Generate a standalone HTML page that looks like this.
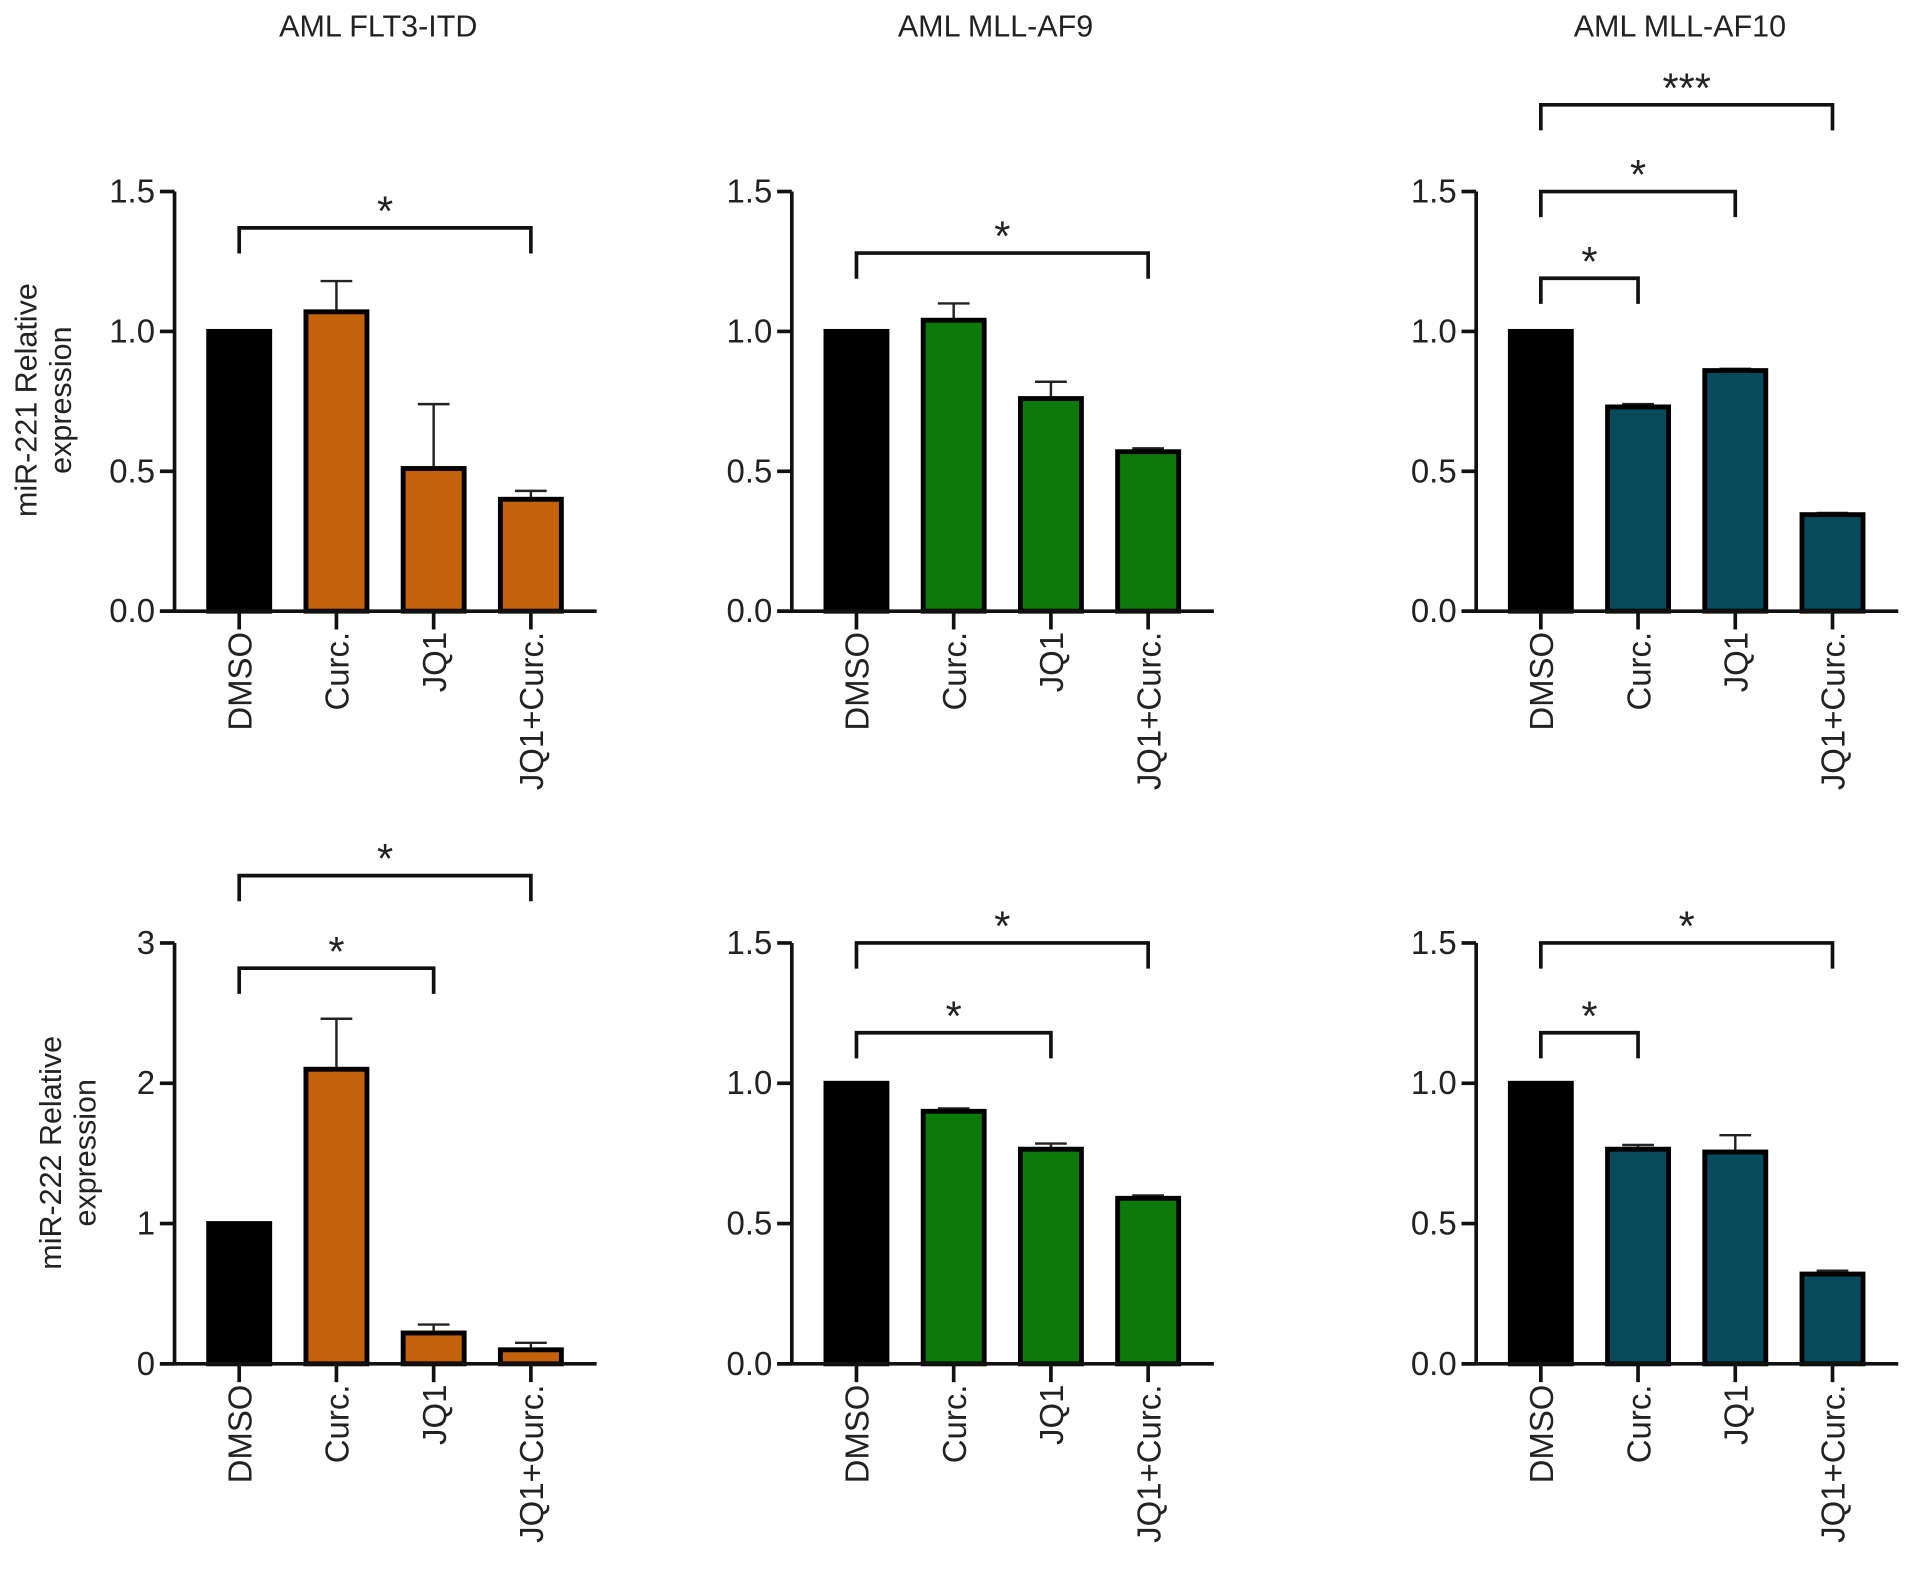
<!DOCTYPE html>
<html><head><meta charset="utf-8"><style>
html,body{margin:0;padding:0;background:#fff}
svg{display:block}
text{font-family:"Liberation Sans",Arial,sans-serif;fill:#222}
</style></head><body>
<svg id="fig" width="1913" height="1570" viewBox="0 0 1568 1287" xmlns="http://www.w3.org/2000/svg"></svg>
<script>
const categories = ["DMSO","Curc.","JQ1","JQ1+Curc."];
const titles = ["AML FLT3-ITD","AML MLL-AF9","AML MLL-AF10"];
const p1Values = [1,1.07,0.51,0.40], p1Err = [0,0.11,0.23,0.03];
const p2Values = [1,1.04,0.76,0.57], p2Err = [0,0.06,0.06,0.012];
const p3Values = [1,0.73,0.86,0.345], p3Err = [0,0.01,0.006,0.006];
const p4Values = [1,2.1,0.22,0.10], p4Err = [0,0.36,0.06,0.05];
const p5Values = [1,0.90,0.765,0.59], p5Err = [0,0.01,0.02,0.01];
const p6Values = [1,0.765,0.755,0.32], p6Err = [0,0.015,0.06,0.012];
const ticksA = [0,0.5,1.0,1.5], tickLabelsA = ["0.0","0.5","1.0","1.5"];
const ticksB = [0,1,2,3], tickLabelsB = ["0","1","2","3"];
const p1Brackets = [[0,3,1.37,"*"]];
const p2Brackets = [[0,3,1.28,"*"]];
const p3Brackets = [[0,3,1.81,"***"],[0,2,1.5,"*"],[0,1,1.19,"*"]];
const p4Brackets = [[0,3,3.48,"*"],[0,2,2.82,"*"]];
const p5Brackets = [[0,3,1.5,"*"],[0,2,1.18,"*"]];
const p6Brackets = [[0,3,1.5,"*"],[0,1,1.18,"*"]];
const colors = ["#c4620b","#0b7a0b","#064a5b"];
const NS="http://www.w3.org/2000/svg";
const svg=document.getElementById('fig');
function mk(tag,attrs,parent){const e=document.createElementNS(NS,tag);for(const k in attrs)e.setAttribute(k,attrs[k]);(parent||svg).appendChild(e);return e;}
const panels=[
 {ax:143,y0:501,y1:157,max:1.5,v:p1Values,e:p1Err,b:p1Brackets,t:ticksA,tl:tickLabelsA,c:colors[0],title:titles[0]},
 {ax:649,y0:501,y1:157,max:1.5,v:p2Values,e:p2Err,b:p2Brackets,t:ticksA,tl:tickLabelsA,c:colors[1],title:titles[1]},
 {ax:1210,y0:501,y1:157,max:1.5,v:p3Values,e:p3Err,b:p3Brackets,t:ticksA,tl:tickLabelsA,c:colors[2],title:titles[2]},
 {ax:143,y0:1118,y1:773,max:3,v:p4Values,e:p4Err,b:p4Brackets,t:ticksB,tl:tickLabelsB,c:colors[0]},
 {ax:649,y0:1118,y1:773,max:1.5,v:p5Values,e:p5Err,b:p5Brackets,t:ticksA,tl:tickLabelsA,c:colors[1]},
 {ax:1210,y0:1118,y1:773,max:1.5,v:p6Values,e:p6Err,b:p6Brackets,t:ticksA,tl:tickLabelsA,c:colors[2]}
];
panels.forEach((p,pi)=>{
 const g=mk('g',{});
 
 
 const ys=v=>p.y0-(v/p.max)*(p.y0-p.y1);
 const xs=i=>p.ax+53+i*79.7;
 if(p.title){const t=mk('text',{x:p.ax+167,y:30,'text-anchor':'middle','font-size':25},g);t.textContent=p.title;
  }
 const ya=mk('line',{x1:p.ax,y1:p.y1,x2:p.ax,y2:p.y0,stroke:'#111','stroke-width':3},g);
 
 p.t.forEach((tv,i)=>{
  mk('line',{x1:p.ax-12,x2:p.ax,y1:ys(tv),y2:ys(tv),stroke:'#111','stroke-width':3},g);
  const tl=mk('text',{x:p.ax-16,y:ys(tv)+9,'text-anchor':'end','font-size':27},g);tl.textContent=p.tl[i];
  
 });
 p.v.forEach((v,i)=>{
  const x=xs(i),w=50;
  if(p.e[i]>0){mk('line',{x1:x,x2:x,y1:ys(v),y2:ys(v+p.e[i]),stroke:'#222','stroke-width':2},g);
   mk('line',{x1:x-13,x2:x+13,y1:ys(v+p.e[i]),y2:ys(v+p.e[i]),stroke:'#222','stroke-width':2},g);}
  const r=mk('rect',{x:x-w/2,y:ys(v),width:w,height:p.y0-ys(v),fill:i===0?'#000':p.c,stroke:'#000','stroke-width':4},g);
  
  
  mk('line',{x1:x,x2:x,y1:p.y0,y2:p.y0+15,stroke:'#111','stroke-width':3},g);
  const cl=mk('text',{x:0,y:0,'text-anchor':'end','font-size':27,transform:`translate(${x+10},${p.y0+17}) rotate(-90)`},g);cl.textContent=categories[i];
  
 });
 const xa=mk('line',{x1:p.ax-12,x2:p.ax+346,y1:p.y0,y2:p.y0,stroke:'#111','stroke-width':3},g);
 
 p.b.forEach(b=>{
  const y=ys(b[2]),xa1=xs(b[0]),xa2=xs(b[1]);
  const br=mk('path',{d:`M${xa1},${y+21}V${y}H${xa2}V${y+21}`,fill:'none',stroke:'#111','stroke-width':3},g);
  
  const st=mk('text',{x:(xa1+xa2)/2,y:y-2,'text-anchor':'middle','font-size':34,fill:'#444'},g);st.textContent=b[3];
  
 });
});
function ylab(lines,cx,cy,name){
 const t=mk('text',{x:0,y:0,'text-anchor':'middle','font-size':25,transform:`translate(${cx},${cy}) rotate(-90)`});
 
 lines.forEach((l,i)=>{const s=mk('tspan',{x:0,dy:i?28:0},t);s.textContent=l;});
}
ylab(["miR-221 Relative","expression"],30,328,'y-axis-title-mir221');
ylab(["miR-222 Relative","expression"],50,945,'y-axis-title-mir222');
</script>
</body></html>
